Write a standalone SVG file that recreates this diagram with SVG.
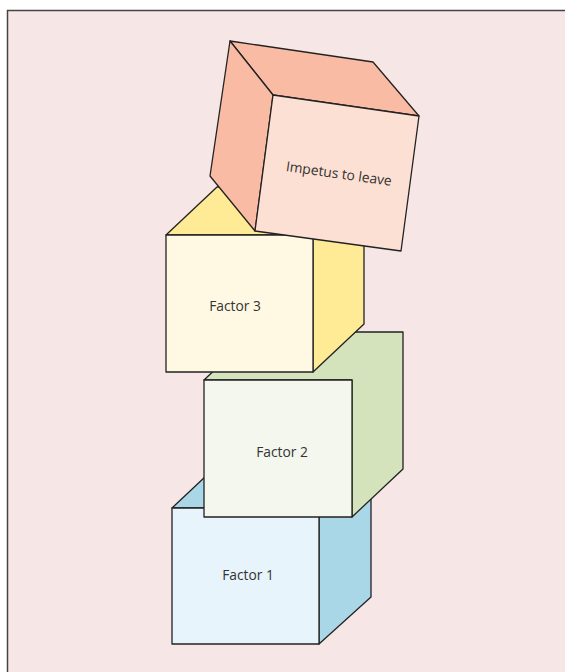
<svg xmlns="http://www.w3.org/2000/svg" width="565" height="672" viewBox="0 0 565 672">
  <style>
    .edge { stroke: #222; stroke-width: 1.3; stroke-linejoin: round; }
    .label { font-family: "Open Sans", "Liberation Sans", sans-serif; font-size: 13.8px; fill: #333; text-anchor: middle; dominant-baseline: central; }
  </style>

  <!-- panel background with top and left rules -->
  <rect x="0" y="0" width="565" height="672" fill="#ffffff"/>
  <rect x="7" y="10" width="558" height="662" fill="#f7e6e6"/>
  <path d="M7.5 672 V10.5 H565" fill="none" stroke="#444" stroke-width="1.5"/>

  <g id="connectors"></g>

  <!-- bottom block -->
  <g id="factor1">
    <polygon class="edge" points="172,508 223,460 371,460 371,597 319,644 319,508" fill="#aad7e8"/>
    <rect class="edge" x="172" y="508" width="147" height="136" fill="#e8f4fb"/>
    <text class="label" x="248" y="574">Factor 1</text>
  </g>

  <g id="factor2">
    <polygon class="edge" points="204,380 255,332 403,332 403,469 352,517 352,380" fill="#d4e3bb"/>
    <rect class="edge" x="204" y="380" width="148" height="137" fill="#f3f7ee"/>
    <text class="label" x="282" y="451">Factor 2</text>
  </g>

  <g id="factor3">
    <polygon class="edge" points="166,235 217,187 364,187 364,324 313,372 313,235" fill="#ffea96"/>
    <rect class="edge" x="166" y="235" width="147" height="137" fill="#fff9e4"/>
    <text class="label" x="235" y="305">Factor 3</text>
  </g>

  <!-- tilted top block -->
  <g id="impetus">
    <polygon class="edge" points="230,41 373,62 419,116 273,95" fill="#f9bba4"/>
    <polygon class="edge" points="230,41 273,95 255,231 210,176" fill="#f9bba4"/>
    <polygon class="edge" points="273,95 419,116 401,251 255,231" fill="#fde0d4"/>
    <text class="label" x="339" y="173" transform="rotate(8 339 173)">Impetus to leave</text>
  </g>
</svg>
